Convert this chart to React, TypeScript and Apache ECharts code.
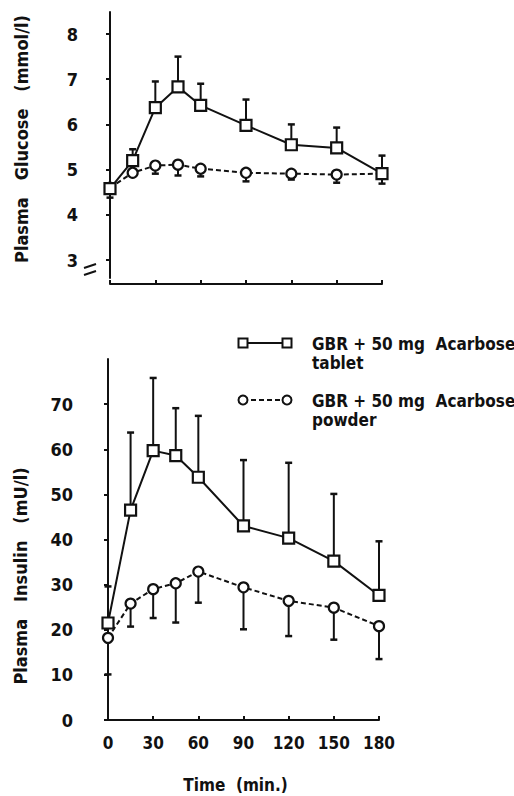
import React, { useEffect, useRef } from "react";
import * as echarts from "echarts";

const times = [0, 15, 30, 45, 60, 90, 120, 150, 180];
const timeTicks = [0, 30, 60, 90, 120, 150, 180];

const glucoseTablet = [4.58, 5.2, 6.37, 6.83, 6.42, 5.98, 5.55, 5.48, 4.91];
const glucoseTabletUpper = [4.58, 5.45, 6.95, 7.5, 6.9, 6.55, 6.0, 5.93, 5.31];
const glucosePowder = [4.6, 4.93, 5.09, 5.11, 5.02, 4.93, 4.91, 4.89, 4.91];
const glucosePowderLower = [4.38, 4.93, 4.91, 4.87, 4.85, 4.74, 4.78, 4.71, 4.69];
const glucoseTicks = [3, 4, 5, 6, 7, 8];

const insulinTablet = [21.5, 46.5, 59.7, 58.6, 53.8, 43.0, 40.3, 35.2, 27.6];
const insulinTabletUpper = [29.6, 63.7, 75.8, 69.1, 67.4, 57.6, 57.0, 50.1, 39.6];
const insulinPowder = [18.2, 25.8, 29.0, 30.3, 32.9, 29.4, 26.4, 24.9, 20.8];
const insulinPowderLower = [10.1, 20.7, 22.6, 21.6, 26.0, 20.1, 18.6, 17.8, 13.5];
const insulinTicks = [0, 10, 20, 30, 40, 50, 60, 70];

const legendTablet = "GBR + 50 mg  Acarbose\ntablet";
const legendPowder = "GBR + 50 mg  Acarbose\npowder";

const FONT = "'DejaVu Sans Condensed', 'Liberation Sans Narrow', 'DejaVu Sans', sans-serif";
const INK = "#111";

function errorSeries(xIdx: number, means: number[], ends: number[]) {
  const data = times.map((t, i) => [t, means[i], ends[i]]);
  return {
    type: "custom",
    xAxisIndex: xIdx,
    yAxisIndex: xIdx,
    z: 1,
    silent: true,
    data,
    renderItem: (params: any, api: any) => {
      const x = api.value(0);
      const m = api.value(1);
      const e = api.value(2);
      if (Math.abs(m - e) < 1e-9) return { type: "group", children: [] };
      const p1 = api.coord([x, m]);
      const p2 = api.coord([x, e]);
      const st = { stroke: INK, lineWidth: 2 };
      return {
        type: "group",
        children: [
          { type: "line", shape: { x1: p1[0], y1: p1[1], x2: p2[0], y2: p2[1] }, style: st },
          { type: "line", shape: { x1: p2[0] - 3.5, y1: p2[1], x2: p2[0] + 3.5, y2: p2[1] }, style: { stroke: INK, lineWidth: 2.5 } },
        ],
      };
    },
  };
}

function lineSeries(idx: number, values: number[], kind: "tablet" | "powder") {
  return {
    type: "line",
    xAxisIndex: idx,
    yAxisIndex: idx,
    z: 3,
    data: times.map((t, i) => [t, values[i]]),
    symbol: kind === "tablet" ? "rect" : "circle",
    symbolSize: kind === "tablet" ? 11 : 10,
    showSymbol: true,
    lineStyle: { color: INK, width: 2, type: kind === "tablet" ? "solid" : [5, 3] },
    itemStyle: { color: "#fff", borderColor: INK, borderWidth: 2.2 },
  };
}

export default function App() {
  const ref = useRef<HTMLDivElement>(null);
  useEffect(() => {
    if (!ref.current) return;
    const chart = echarts.init(ref.current, null, { renderer: "svg" });
    const xAxisBase = {
      type: "value",
      min: 0,
      max: 180,
      axisLine: { show: true, lineStyle: { color: INK, width: 2 } },
      axisTick: { show: true, inside: true, length: 4, customValues: timeTicks, lineStyle: { color: INK, width: 2 } },
      splitLine: { show: false },
    };
    const yLabel = { color: INK, fontFamily: FONT, fontWeight: "bold", fontSize: 18 };
    chart.setOption({
      animation: false,
      backgroundColor: "#fff",
      grid: [
        { left: 110, right: 132, top: 12, height: 266 },
        { left: 108, right: 135, top: 359, height: 361 },
      ],
      xAxis: [
        { ...xAxisBase, gridIndex: 0, offset: 6, axisLabel: { show: false } },
        {
          ...xAxisBase,
          gridIndex: 1,
          axisLabel: {
            show: true,
            customValues: timeTicks,
            margin: 14,
            color: INK,
            fontFamily: FONT,
            fontWeight: "bold",
            fontSize: 17,
          },
          name: "Time  (min.)",
          nameLocation: "middle",
          nameGap: 56,
          nameTextStyle: { color: INK, fontFamily: FONT, fontWeight: "bold", fontSize: 17, padding: [0, 16, 0, 0] },
        },
      ],
      yAxis: [
        {
          type: "value",
          gridIndex: 0,
          min: 2.602,
          max: 8.487,
          offset: 20,
          axisLine: { show: true, lineStyle: { color: INK, width: 2 } },
          axisTick: { show: true, length: 4, customValues: glucoseTicks, lineStyle: { color: INK, width: 2 } },
          axisLabel: { ...yLabel, customValues: glucoseTicks, margin: 12 },
          splitLine: { show: false },
        },
        {
          type: "value",
          gridIndex: 1,
          min: 0,
          max: 80,
          offset: 23,
          axisLine: { show: true, lineStyle: { color: INK, width: 2 } },
          axisTick: { show: true, length: 4, customValues: insulinTicks, lineStyle: { color: INK, width: 2 } },
          axisLabel: { ...yLabel, customValues: insulinTicks, margin: 12 },
          splitLine: { show: false },
        },
      ],
      series: [
        errorSeries(0, glucoseTablet, glucoseTabletUpper),
        errorSeries(0, glucosePowder, glucosePowderLower),
        lineSeries(0, glucosePowder, "powder"),
        lineSeries(0, glucoseTablet, "tablet"),
        errorSeries(1, insulinTablet, insulinTabletUpper),
        errorSeries(1, insulinPowder, insulinPowderLower),
        lineSeries(1, insulinPowder, "powder"),
        lineSeries(1, insulinTablet, "tablet"),
      ],
      graphic: [
        // axis break marks
        { type: "line", shape: { x1: 84, y1: 268, x2: 96, y2: 264 }, style: { stroke: INK, lineWidth: 2 } },
        { type: "line", shape: { x1: 84, y1: 275, x2: 96, y2: 271 }, style: { stroke: INK, lineWidth: 2 } },
        // y axis titles
        {
          type: "text",
          x: 21,
          y: 139,
          rotation: Math.PI / 2,
          style: { text: "Plasma   Glucose   (mmol/l)", fill: INK, font: `bold 18px ${FONT}`, align: "center", verticalAlign: "middle" },
        },
        {
          type: "text",
          x: 20,
          y: 576,
          rotation: Math.PI / 2,
          style: { text: "Plasma   Insulin   (mU/l)", fill: INK, font: `bold 18px ${FONT}`, align: "center", verticalAlign: "middle" },
        },
        // legend
        { type: "line", shape: { x1: 243, y1: 343, x2: 287, y2: 343 }, style: { stroke: INK, lineWidth: 2 } },
        { type: "rect", shape: { x: 238.5, y: 338.5, width: 9, height: 9 }, style: { fill: "#fff", stroke: INK, lineWidth: 2 } },
        { type: "rect", shape: { x: 282.5, y: 338.5, width: 9, height: 9 }, style: { fill: "#fff", stroke: INK, lineWidth: 2 } },
        { type: "text", x: 312, y: 334, style: { text: legendTablet, fill: INK, font: `bold 17px ${FONT}`, lineHeight: 19, verticalAlign: "top" } },
        { type: "line", shape: { x1: 243, y1: 400, x2: 287, y2: 400 }, style: { stroke: INK, lineWidth: 2, lineDash: [5, 3] } },
        { type: "circle", shape: { cx: 243, cy: 400, r: 4.5 }, style: { fill: "#fff", stroke: INK, lineWidth: 2 } },
        { type: "circle", shape: { cx: 287, cy: 400, r: 4.5 }, style: { fill: "#fff", stroke: INK, lineWidth: 2 } },
        { type: "text", x: 312, y: 391, style: { text: legendPowder, fill: INK, font: `bold 17px ${FONT}`, lineHeight: 19, verticalAlign: "top" } },
      ],
    });
    return () => chart.dispose();
  }, []);
  return (
    <div
      ref={ref}
      style={{ position: "fixed", left: 0, top: 0, width: 514, height: 796, background: "#fff" }}
    />
  );
}
